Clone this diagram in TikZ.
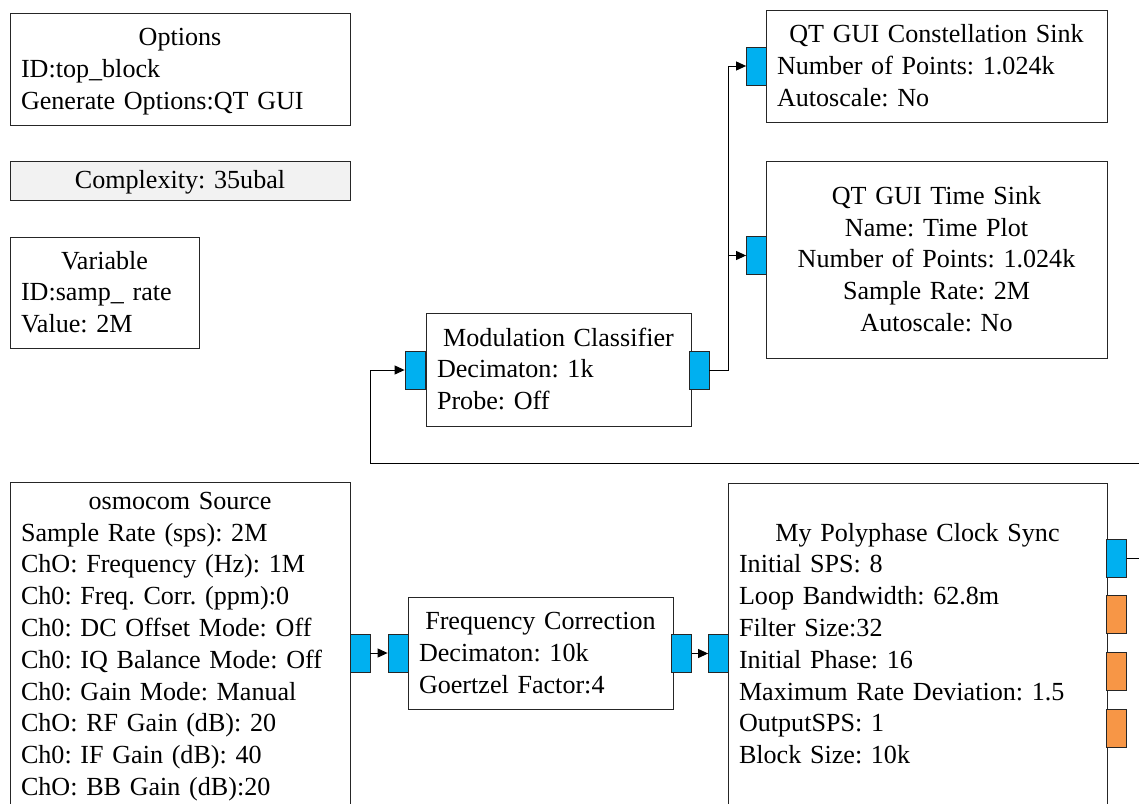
\documentclass[tikz,border=0pt]{standalone}
\usepackage{fontspec}
\setmainfont{Liberation Serif}
\usetikzlibrary{arrows.meta}
\definecolor{portblue}{HTML}{00B0F0}
\definecolor{portorange}{HTML}{F79646}
\definecolor{varfill}{HTML}{F2F2F2}
\newcommand\topstrut{\rule{0pt}{26.3pt}}
\frenchspacing
\begin{document}
\begin{tikzpicture}[x=1pt,y=-1pt,
  every node/.style={font=\fontsize{26.1}{31.8}\selectfont\frenchspacing},
  blk/.style={draw=black!85, line width=1pt, fill=white, rectangle,
    inner xsep=11pt, inner ysep=0pt, align=left},
  port/.style={draw=black!85, line width=0.8pt, fill=portblue,
    minimum width=20pt, minimum height=38pt, inner sep=0pt},
  msgport/.style={port, fill=portorange},
  wire/.style={draw=black, line width=1pt},
  flow/.style={wire, -{Triangle[length=10pt,width=9pt]}}]

\useasboundingbox (0,0) rectangle (1139,803);
\clip (0,0) rectangle (1139,803);

% ---- parameter blocks ----
\node[blk, minimum width=340pt, minimum height=112pt, text width=318pt] (opt) at (180,69)
  {\topstrut\makebox[\hsize]{Options}\\ID:top\_block\\Generate Options:QT GUI\strut};
\node[blk, fill=varfill, minimum width=340pt, minimum height=39pt, text width=318pt, align=center] (cplx) at (180,180.5)
  {\topstrut Complexity: 35ubal\strut};
\node[blk, minimum width=189pt, minimum height=111pt, text width=167pt] (var) at (104.5,292.5)
  {\topstrut\makebox[\hsize]{Variable}\\ID:samp\_ rate\\Value: 2M\strut};

% ---- processing blocks ----
\node[blk, minimum width=265pt, minimum height=113pt, text width=243pt] (mod) at (558.5,369.5)
  {\topstrut\makebox[\hsize]{Modulation Classifier}\\Decimaton: 1k\\Probe: Off\strut};
\node[blk, minimum width=341pt, minimum height=112pt, text width=319pt] (const) at (936.5,66)
  {\topstrut\makebox[\hsize]{QT GUI Constellation Sink}\\Number of Points: 1.024k\\Autoscale: No\strut};
\node[blk, minimum width=341pt, minimum height=197pt, text width=319pt, align=center] (time) at (936.5,259.5)
  {\topstrut QT GUI Time Sink\\Name: Time Plot\\Number of Points: 1.024k\\Sample Rate: 2M\\Autoscale: No\strut};
\node[blk, minimum width=340pt, minimum height=322pt, text width=318pt] (osmo) at (180,644)
  {\topstrut\makebox[\hsize]{osmocom Source}\\Sample Rate (sps): 2M\\ChO: Frequency (Hz): 1M\\Ch0: Freq. Corr. (ppm):0\\Ch0: DC Offset Mode: Off\\Ch0: IQ Balance Mode: Off\\Ch0: Gain Mode: Manual\\ChO: RF Gain (dB): 20\\Ch0: IF Gain (dB): 40\\ChO: BB Gain (dB):20\strut};
\node[blk, minimum width=265pt, minimum height=112pt, text width=243pt] (fc) at (540.5,653)
  {\topstrut\makebox[\hsize]{Frequency Correction}\\Decimaton: 10k\\Goertzel Factor:4\strut};
\node[blk, minimum width=379pt, minimum height=322pt, text width=357pt] (pp) at (917.5,644)
  {\topstrut\makebox[\hsize]{My Polyphase Clock Sync}\\Initial SPS: 8\\Loop Bandwidth: 62.8m\\Filter Size:32\\Initial Phase: 16\\Maximum Rate Deviation: 1.5\\OutputSPS: 1\\Block Size: 10k\strut};

% ---- ports ----
\node[port] (modIn) at (415,370) {};
\node[port] (modOut) at (699,370) {};
\node[port] (constIn) at (756.5,66) {};
\node[port] (timeIn) at (756.5,255.5) {};
\node[port] (osmoOut) at (360,653) {};
\node[port] (fcIn) at (398,653) {};
\node[port] (fcOut) at (681.5,653.5) {};
\node[port] (ppIn) at (718.5,653.5) {};
\node[port] (ppOut) at (1116.5,558) {};
\node[msgport] (ppMsgA) at (1116.5,614.7) {};
\node[msgport] (ppMsgB) at (1116.5,671.4) {};
\node[msgport] (ppMsgC) at (1116.5,728) {};

% ---- connections ----
\coordinate (split) at (728,0);
\coordinate (loopR) at (1170,463);
\coordinate (loopL) at (370,463);
\draw[flow] (modOut.east) -- (modOut.east -| split) |- (constIn.west);
\draw[flow] (modOut.east) -- (modOut.east -| split) |- (timeIn.west);
\draw[flow] (osmoOut.east) -- (fcIn.west);
\draw[flow] (fcOut.east) -- (ppIn.west);
\draw[flow] (ppOut.east) -- (ppOut.east -| loopR) -- (loopR) -- (loopL) |- (modIn.west);
\end{tikzpicture}
\end{document}
